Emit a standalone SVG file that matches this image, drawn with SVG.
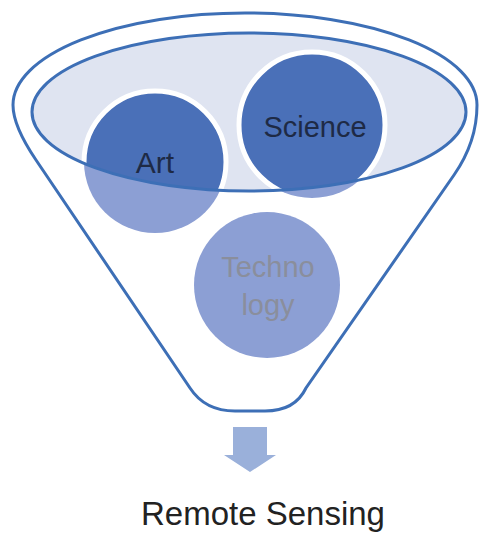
<svg xmlns="http://www.w3.org/2000/svg" width="483" height="533" viewBox="0 0 483 533">
<style>
.ln{fill:none;stroke:#3d6fb6;stroke-width:3}
.lbl{font-family:"Liberation Sans",Arial,sans-serif;text-anchor:middle}
.ring{stroke:#ffffff;stroke-width:5}
</style>
<defs>
<clipPath id="innerClip"><ellipse cx="249" cy="112" rx="217" ry="79"/></clipPath>
</defs>
<rect width="483" height="533" fill="#ffffff"/>
<g id="funnel">
<path class="ln" fill="#ffffff" style="fill:#ffffff" d="M13,105 A232,92 0 0 1 477,105 Q477,142 454,175 L306,388 Q295,411 265,411 L235,411 Q205,411 190,388 L36,160 Q13,126 13,105 Z"/>
<ellipse cx="249" cy="112" rx="217" ry="79" fill="#dfe4f1"/>
</g>
<g id="technology">
<circle cx="267" cy="285" r="73" fill="#8c9fd4"/>
<text class="lbl" x="268" y="277" font-size="29" fill="#8a8e9c">Techno</text>
<text class="lbl" x="268" y="315" font-size="29" fill="#8a8e9c">logy</text>
</g>
<g id="art">
<circle cx="155" cy="162" r="71" fill="#8c9fd4"/>
<circle cx="155" cy="162" r="71" fill="#4a70b8" class="ring" clip-path="url(#innerClip)"/>
</g>
<g id="science">
<circle cx="312" cy="125" r="73" fill="#8c9fd4"/>
<circle cx="312" cy="125" r="73" fill="#4a70b8" class="ring" clip-path="url(#innerClip)"/>
</g>
<ellipse class="ln" cx="249" cy="112" rx="217" ry="79"/>
<text class="lbl" x="155" y="173" font-size="30" fill="#1e2a45">Art</text>
<text class="lbl" x="315" y="137" font-size="29" fill="#1e2a45">Science</text>
<g id="connectors">
<path d="M233,427 L267,427 L267,455 L276,455 L250,472 L224,455 L233,455 Z" fill="#9ab0da"/>
</g>
<g id="result">
<text class="lbl" x="263" y="525" font-size="33" fill="#222222">Remote Sensing</text>
</g>
</svg>
